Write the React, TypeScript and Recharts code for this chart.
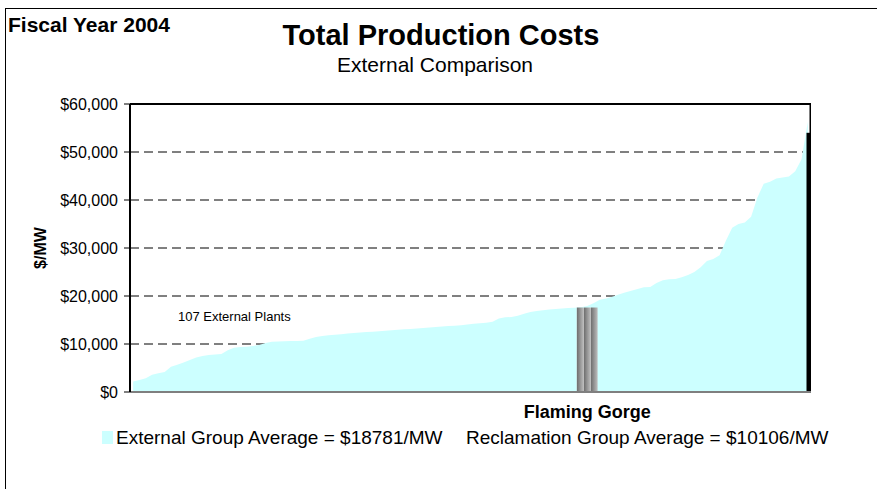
import React from 'react'
import {
  ComposedChart,
  Area,
  Bar,
  XAxis,
  YAxis,
  CartesianGrid,
  ReferenceLine,
  ReferenceArea,
  Legend,
} from 'recharts'

const FONT = '"Liberation Sans", Arial, Helvetica, sans-serif'

// external plants sorted by $/MW, split around Flaming Gorge
const costsBeforeFG = [
  2200, 2500, 2850, 3600, 3900, 4150, 5250, 5700, 6150, 6650,
  7200, 7500, 7700, 7800, 7900, 8700, 9200, 9350, 9450, 9600,
  9800, 10200, 10450, 10500, 10550, 10600, 10650, 10700, 11100, 11450,
  11650, 11800, 11950, 12050, 12200, 12300, 12400, 12500, 12550, 12650,
  12750, 12850, 12950, 13050, 13150, 13250, 13350, 13450, 13550, 13650,
  13750, 13800, 13900, 14050, 14200, 14300, 14450, 14650, 15300, 15550,
  15650, 15900, 16300, 16650, 16850, 17050, 17200, 17300, 17400, 17500,
  17550, 17650,
]
const costsAfterFG = [
  18500, 19200, 19500, 19850, 20300, 20750, 21100, 21450, 21800, 21900,
  22700, 23300, 23500, 23550, 23900, 24400, 25000, 26000, 27300, 27700,
  28500, 31500, 34200, 35000, 35300, 36500, 40500, 43400, 43800, 44500,
  44700, 44900, 46000, 48500, 56300,
]
const fgName = 'Flaming Gorge'
const fgCost = 17600
const fgAreaCost = 17900
const edgeBarTop = 54000
const yMax = 60000
const yTicks = [0, 10000, 20000, 30000, 40000, 50000, 60000]
const externalLabel = 'External Group Average = $18781/MW'
const reclamationLabel = 'Reclamation Group Average = $10106/MW'

const rows = [
  ...costsBeforeFG.map((cost, i) => ({ name: `Plant ${i + 1}`, cost, fg: null as number | null })),
  { name: fgName, cost: fgAreaCost, fg: fgCost },
  ...costsAfterFG.map((cost, i) => ({
    name: `Plant ${costsBeforeFG.length + i + 1}`,
    cost,
    fg: null as number | null,
  })),
]
const lastName = rows[rows.length - 1].name

const money = (v: number) => `$${v.toLocaleString('en-US')}`

const FG_BAR_WIDTH = 21

// the band is only ~6px wide, so draw the column wider around its centre
function WideBar(props: any) {
  const { x, y, width, height } = props
  if (!height || height <= 0) return null
  const cx = x + width / 2
  return <rect x={cx - FG_BAR_WIDTH / 2} y={y} width={FG_BAR_WIDTH} height={height} fill="url(#fgStripes)" />
}

// right border of the plot plus the thick black edge below edgeBarTop
function RightEdge(props: any) {
  const { x, y, width, height } = props
  const right = x + width
  const thickH = (height * edgeBarTop) / yMax
  return (
    <g>
      <rect x={right - 1.5} y={y} width={1.5} height={height} fill="#000" />
      <rect x={right - 4.5} y={y + height - thickH} width={4.5} height={thickH} fill="#000" />
    </g>
  )
}

function LegendContent({ payload }: any) {
  const items = payload ?? []
  return (
    <div style={{ position: 'relative', height: 20, fontFamily: FONT, fontSize: 19, lineHeight: '19px' }}>
      {items.map((entry: any, i: number) =>
        i === 0 ? (
          <React.Fragment key={entry.value}>
            <span
              style={{ position: 'absolute', left: 102, top: 3, width: 11, height: 13, background: '#CCFFFF' }}
            />
            <span style={{ position: 'absolute', left: 116, top: 0, whiteSpace: 'nowrap' }}>{entry.value}</span>
          </React.Fragment>
        ) : (
          <span key={entry.value} style={{ position: 'absolute', left: 466, top: 0, whiteSpace: 'nowrap' }}>
            {entry.value}
          </span>
        )
      )}
    </div>
  )
}

export default function App() {
  return (
    <div
      style={{
        position: 'absolute',
        left: 0,
        top: 0,
        width: 877,
        height: 489,
        overflow: 'hidden',
        background: '#fff',
        fontFamily: FONT,
        color: '#000',
      }}
    >
      <div
        style={{ position: 'absolute', left: 5, top: 8, width: 900, height: 500, border: '1px solid #000' }}
      />
      <div style={{ position: 'absolute', left: 8, top: 14, fontSize: 21, lineHeight: '21px', fontWeight: 'bold' }}>
        Fiscal Year 2004
      </div>
      <div
        style={{
          position: 'absolute',
          left: 241,
          width: 400,
          top: 21,
          textAlign: 'center',
          fontSize: 29,
          lineHeight: '29px',
          fontWeight: 'bold',
        }}
      >
        Total Production Costs
      </div>
      <div
        style={{
          position: 'absolute',
          left: 235,
          width: 400,
          top: 54,
          textAlign: 'center',
          fontSize: 21,
          lineHeight: '21px',
        }}
      >
        External Comparison
      </div>

      <div style={{ position: 'absolute', left: 0, top: 0 }}>
        <ComposedChart width={877} height={489} data={rows} margin={{ top: 104, right: 66, bottom: 67, left: 0 }}>
          <defs>
            <linearGradient id="fgStripes" x1="0" y1="0" x2="0.3333" y2="0" spreadMethod="repeat">
              <stop offset="0%" stopColor="#6a6a6a" />
              <stop offset="100%" stopColor="#bdbdbd" />
            </linearGradient>
          </defs>
          <CartesianGrid horizontal vertical={false} stroke="#000" strokeOpacity={1} strokeDasharray="9 5" />
          <XAxis
            dataKey="name"
            ticks={[fgName]}
            interval={0}
            height={30}
            tickSize={0}
            tickMargin={13}
            tickLine={false}
            axisLine={{ stroke: '#7f7f7f', strokeWidth: 2 }}
            tick={{ fill: '#000', fontSize: 18, fontWeight: 'bold', fontFamily: FONT }}
          />
          <YAxis
            domain={[0, yMax]}
            ticks={yTicks}
            width={130}
            tickSize={6}
            tickMargin={6}
            tickFormatter={v => money(Number(v))}
            tick={{ fill: '#000', fontSize: 16, fontFamily: FONT }}
            tickLine={{ stroke: '#000' }}
            axisLine={{ stroke: '#000', strokeWidth: 2 }}
            label={{
              value: '$/MW',
              angle: -90,
              position: 'insideLeft',
              offset: 40,
              style: { textAnchor: 'middle', fontWeight: 'bold', fontSize: 16, fill: '#000', fontFamily: FONT },
            }}
          />
          <Area
            type="linear"
            dataKey="cost"
            name={externalLabel}
            fill="#CCFFFF"
            fillOpacity={1}
            stroke="none"
            dot={false}
            activeDot={false}
            isAnimationActive={false}
          />
          <Bar dataKey="fg" name={reclamationLabel} fill="#999" shape={WideBar} isAnimationActive={false} />
          <ReferenceLine y={yMax} stroke="#000" strokeWidth={2} />
          <ReferenceArea
            x1={lastName}
            x2={lastName}
            y1={0}
            y2={yMax}
            shape={RightEdge}
            ifOverflow="visible"
          />
          <Legend
            verticalAlign="middle"
            align="center"
            content={LegendContent}
            wrapperStyle={{ left: 0, top: 428, width: 877, height: 20 }}
          />
        </ComposedChart>
      </div>

      <div style={{ position: 'absolute', left: 178, top: 310, fontSize: 13, lineHeight: '13px' }}>
        107 External Plants
      </div>
    </div>
  )
}
